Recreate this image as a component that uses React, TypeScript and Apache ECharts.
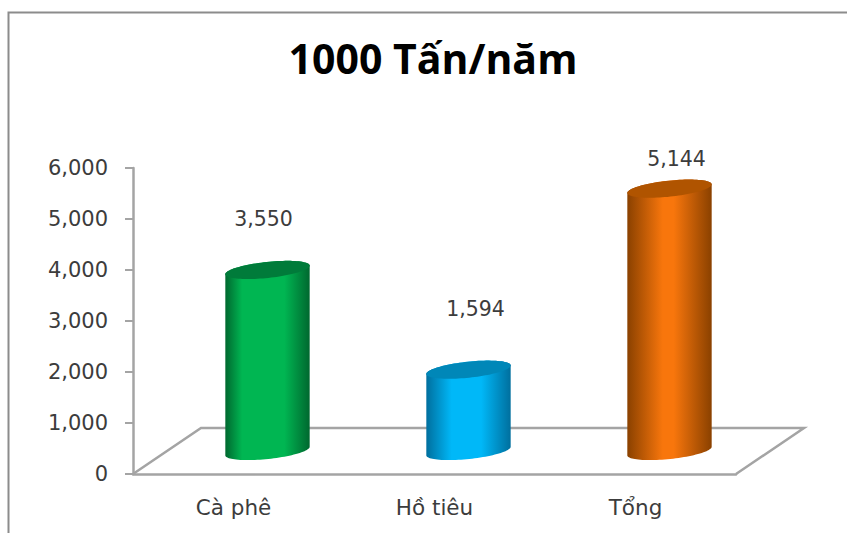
import React, { useEffect, useRef } from "react";
import * as echarts from "echarts";

const titleText = "1000 Tấn/năm";
const categories = ["Cà phê", "Hồ tiêu", "Tổng"];
const values = [3550, 1594, 5144];
const yTicks = [0, 1000, 2000, 3000, 4000, 5000, 6000];

const edgeColors = ["#00682f", "#006f9e", "#8a4100"];
const midColors = ["#00b652", "#00b8f8", "#f8760c"];
const capColors = ["#007b3a", "#0087b8", "#b05400"];
const shoulders = [
  [0.2, 0.7],
  [0.3, 0.65],
  [0.42, 0.55],
];
const labelShift = [
  [30, -74],
  [41, -84],
  [41, -53],
];

const AXIS = "#a4a4a4";
const TEXT = "#3c3c3c";
const FONT = "'DejaVu Sans', sans-serif";
const TITLE_FONT = "'Open Sans', 'Noto Sans', sans-serif";

const GRID = { left: 133, top: 168, width: 603, height: 306 };
const TILT = (6 * Math.PI) / 180;

function renderCylinder(params: any, api: any) {
  const i = api.value(0);
  const v = api.value(1);
  const top = api.coord([i, v]);
  const base = api.coord([i, 0]);
  const a = api.size([1, 0])[0] * 0.211;
  const b = 8;
  const cx = top[0] + 34;
  const rise = 23;
  const ty = top[1] - rise;
  const by = base[1] - rise;
  const rim = (cy: number, t: number) => [
    cx + a * Math.cos(t) * Math.cos(TILT) + b * Math.sin(t) * Math.sin(TILT),
    cy - a * Math.cos(t) * Math.sin(TILT) + b * Math.sin(t) * Math.cos(TILT),
  ];
  const steps = 48;
  const body: number[][] = [];
  for (let k = 0; k <= steps; k++) body.push(rim(by, Math.PI - (k / steps) * Math.PI));
  for (let k = 0; k <= steps; k++) body.push(rim(ty, -(k / steps) * Math.PI));
  const cap: number[][] = [];
  for (let k = 0; k < steps * 2; k++) cap.push(rim(ty, (k / steps) * Math.PI));
  return {
    type: "group",
    children: [
      {
        type: "polygon",
        shape: { points: body },
        style: {
          fill: new echarts.graphic.LinearGradient(0, 0, 1, 0, [
            { offset: 0, color: edgeColors[i] },
            { offset: shoulders[i][0], color: midColors[i] },
            { offset: shoulders[i][1], color: midColors[i] },
            { offset: 1, color: edgeColors[i] },
          ]),
        },
      },
      { type: "polygon", shape: { points: cap }, style: { fill: capColors[i] } },
      {
        type: "text",
        style: {
          text: v.toLocaleString("en-US"),
          x: top[0] + labelShift[i][0],
          y: top[1] + labelShift[i][1],
          align: "center",
          verticalAlign: "middle",
          fill: TEXT,
          font: `20.5px ${FONT}`,
        },
      },
    ],
  };
}

export default function App() {
  const ref = useRef<HTMLDivElement>(null);
  useEffect(() => {
    const chart = echarts.init(ref.current!, null, { renderer: "svg" });
    chart.setOption({
      animation: false,
      backgroundColor: "#ffffff",
      title: {
        text: titleText,
        left: 428,
        top: 32,
        textAlign: "center",
        textStyle: { fontFamily: TITLE_FONT, fontSize: 41, fontWeight: "bold", color: "#000000" },
      },
      grid: GRID,
      xAxis: {
        type: "category",
        data: categories,
        axisLine: { lineStyle: { color: AXIS, width: 2.5 } },
        axisTick: { length: 8, lineStyle: { color: AXIS, width: 2 } },
        axisLabel: { color: TEXT, fontFamily: FONT, fontSize: 21.5, margin: 22 },
      },
      yAxis: {
        type: "value",
        min: yTicks[0],
        max: yTicks[yTicks.length - 1],
        interval: yTicks[1] - yTicks[0],
        splitLine: { show: false },
        axisLine: { show: true, lineStyle: { color: AXIS, width: 2.5 } },
        axisTick: { show: true, length: 8, lineStyle: { color: AXIS, width: 2 } },
        axisLabel: {
          color: TEXT,
          fontFamily: FONT,
          fontSize: 21,
          margin: 25,
          padding: [3, 0, 0, 0],
          formatter: (val: number) => val.toLocaleString("en-US"),
        },
      },
      graphic: [
        {
          type: "polyline",
          silent: true,
          z: 0,
          shape: { points: [[8.5, 533], [8.5, 12.5], [847, 12.5]] },
          style: { stroke: "#8c8c8c", lineWidth: 2, fill: "none" },
        },
        {
          type: "polyline",
          silent: true,
          z: 0,
          shape: { points: [[133, 474], [201, 428], [804, 428], [736, 474]] },
          style: { stroke: AXIS, lineWidth: 2.5, fill: "none" },
        },
      ],
      series: [
        {
          type: "custom",
          z: 5,
          clip: false,
          renderItem: renderCylinder,
          data: values.map((v, i) => [i, v]),
          encode: { x: 0, y: 1 },
        },
      ],
    });
    return () => chart.dispose();
  }, []);
  return <div ref={ref} style={{ position: "fixed", left: 0, top: 0, width: 847, height: 533 }} />;
}
